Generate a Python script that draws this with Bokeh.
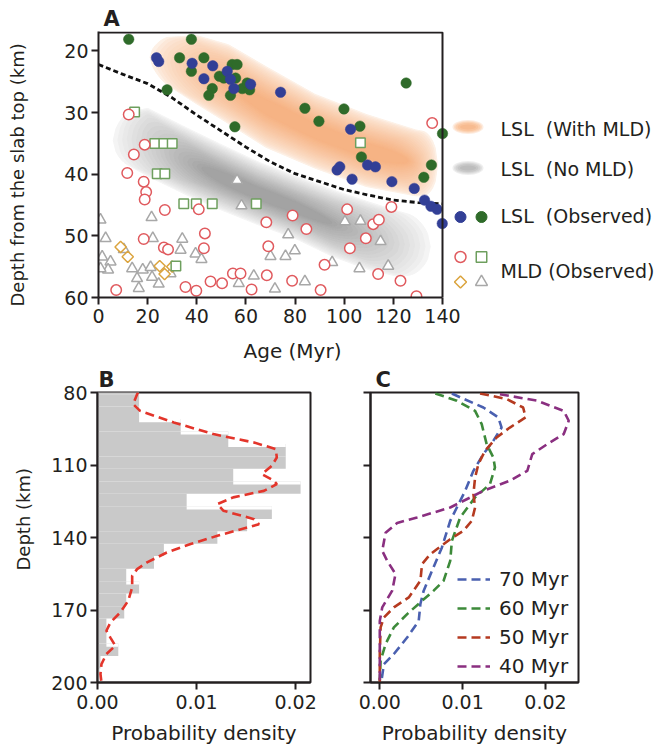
import numpy as np
from bokeh.plotting import figure
from bokeh.models import (Range1d, FixedTicker, Label, Legend, LegendItem, PrintfTickFormatter,
                          Title, LinearAxis)
from bokeh.layouts import column, row
from bokeh.embed import file_html
from bokeh.resources import INLINE

FONT = "DejaVu Sans"
INK = "#231f20"

# ------------------------------------------------------------------ Panel A data
lsl_blue_age = [23.6, 24.5, 38.1, 42.9, 46.5, 52.4, 53.7, 55.1, 61.9, 74.1, 102.6, 97.1, 98.2,
                103.2, 109.5, 112.7, 119.4, 128.5, 132.7, 135.3, 137.8, 139.9]
lsl_blue_depth = [21.1, 21.7, 22.0, 24.5, 22.4, 23.3, 24.6, 26.1, 25.4, 26.7, 32.7, 39.3, 38.8,
                  40.8, 38.5, 38.8, 41.2, 42.3, 44.2, 45.2, 45.7, 48.0]
lsl_green_age = [12.3, 37.8, 33.0, 42.9, 37.8, 54.4, 56.4, 49.2, 51.0, 55.8, 46.3, 44.9, 53.7, 27.9,
                 58.5, 60.5, 61.5, 55.5, 125.2, 84.0, 99.9, 89.7, 106.4, 107.0, 135.5, 140.0, 132.4]
lsl_green_depth = [18.1, 18.1, 21.1, 21.1, 23.3, 22.2, 22.2, 24.1, 24.4, 24.4, 26.1, 27.2, 27.2, 26.3,
                   26.1, 25.2, 26.3, 32.3, 25.2, 29.3, 29.4, 31.4, 32.2, 37.2, 38.5, 33.4, 40.5]

mld_circle_age = [12.3, 18.8, 14.4, 11.7, 18.4, 19.4, 18.8, 27.0, 40.8, 43.3, 18.4, 26.6, 28.3, 42.9,
                  7.2, 35.4, 39.8, 45.6, 50.3, 54.7, 57.8, 62.3, 68.5, 69.1, 68.3, 79.0, 84.6, 78.8,
                  90.4, 92.0, 101.2, 102.3, 108.8, 111.8, 114.1, 113.8, 119.2, 122.9, 129.4, 135.8]
mld_circle_depth = [30.3, 35.2, 36.8, 39.8, 41.2, 42.9, 44.1, 45.8, 45.7, 49.6, 50.5, 51.9, 52.2, 52.0,
                    58.8, 58.3, 58.9, 57.4, 57.7, 56.1, 56.1, 58.7, 56.4, 51.7, 47.8, 46.7, 48.9, 57.3,
                    58.8, 54.7, 45.7, 52.0, 50.4, 48.1, 47.4, 56.2, 45.3, 57.3, 59.8, 31.7]
mld_square_age = [14.7, 22.9, 26.6, 30.0, 23.9, 27.0, 34.7, 39.8, 46.3, 64.2, 31.5, 106.6]
mld_square_depth = [29.9, 35.0, 35.0, 35.0, 39.9, 39.9, 44.8, 44.8, 44.8, 44.8, 54.9, 34.9]
mld_diamond_age = [9.0, 11.9, 24.9, 26.9, 30.0]
mld_diamond_depth = [51.8, 53.4, 54.9, 56.2, 55.0]
mld_triangle_age = [0.8, 2.9, 1.5, 4.9, 3.9, 0.8, 10.3, 13.7, 15.7, 18.0, 21.2, 21.8, 16.4, 24.5, 29.3,
                    33.4, 34.1, 21.6, 22.1, 39.5, 41.9, 56.4, 58.2, 63.2, 57.1, 70.0, 71.8, 77.2, 79.9,
                    76.1, 84.0, 95.1, 100.3, 106.6, 114.8, 106.2, 117.9]
mld_triangle_depth = [47.4, 50.4, 53.4, 54.2, 55.5, 55.3, 52.2, 55.3, 56.9, 55.5, 55.1, 56.7, 58.5, 57.8, 56.1,
                      52.3, 50.5, 47.0, 50.4, 52.9, 53.8, 41.0, 45.1, 56.5, 57.7, 53.3, 58.6, 49.8, 52.4,
                      53.3, 57.4, 54.3, 47.7, 47.6, 50.9, 55.3, 54.9]

# predicted LSL zones (outer edges) and the boundary between them
band_mld_age = [21, 28, 40, 53, 68, 88, 109, 129, 138]
band_mld_top = [18.5, 17.8, 17.5, 19.0, 22.5, 27.0, 30.3, 32.8, 33.5]
band_mld_bottom = [23.5, 25.5, 28.6, 31.8, 35.6, 39.0, 42.0, 43.5, 43.5]
band_nomld_age = [6, 12, 20, 35, 50, 65, 80, 95, 110, 122, 135]
band_nomld_top = [31.5, 30.0, 29.3, 32.3, 35.2, 38.0, 40.3, 42.5, 44.5, 46.0, 47.5]
band_nomld_bottom = [37.5, 38.5, 40.3, 43.2, 45.8, 48.2, 50.4, 53.3, 55.5, 56.6, 56.0]
boundary_age = [0, 10, 20, 30, 40, 50, 60, 70, 80, 90, 100, 110, 120, 130, 140]
boundary_depth = [22.2, 23.8, 25.3, 27.6, 30.4, 33.0, 35.6, 38.0, 39.9, 41.2, 42.5, 43.4, 44.2, 44.6, 44.8]

a_xticks = [0, 20, 40, 60, 80, 100, 120, 140]
a_yticks = [20, 30, 40, 50, 60]

# ------------------------------------------------------------------ Panel B data
hist_edges = [75.5, 80.7, 85.8, 91.0, 96.1, 101.3, 106.5, 111.6, 116.8, 121.9, 127.1, 132.3, 137.4,
              142.6, 147.7, 152.9, 158.1, 163.2, 168.4, 173.5, 178.7, 183.9, 189.0, 194.2, 199.3, 204.5]
hist_density = [0.0042, 0.0042, 0.0042, 0.0084, 0.0132, 0.0190, 0.0190, 0.0137, 0.0205, 0.0090, 0.0176,
                0.0151, 0.0121, 0.0067, 0.0057, 0.0029, 0.0042, 0.0029, 0.0027, 0.0009, 0.0009, 0.0021,
                0.0003, 0.0002, 0.0001]
kde_depth = [80.0, 80.7, 84.8, 87.6, 92.4, 97.2, 100.7, 103.4, 106.9, 110.3, 113.8, 116.5, 117.9, 120.7,
             123.4, 126.2, 128.9, 132.4, 134.5, 135.9, 139.3, 142.7, 146.2, 150.3, 153.1, 155.8, 160.7,
             166.2, 171.0, 175.2, 178.6, 181.4, 184.8, 188.2, 192.4, 196.5, 200.0]
kde_density = [0.0041, 0.0040, 0.0036, 0.0043, 0.0077, 0.0117, 0.0158, 0.0180, 0.0181, 0.0176, 0.0166,
               0.0178, 0.0181, 0.0168, 0.0137, 0.0121, 0.0127, 0.0158, 0.0163, 0.0151, 0.0121, 0.0094,
               0.0070, 0.0050, 0.0040, 0.0035, 0.0035, 0.0031, 0.0023, 0.0013, 0.0009, 0.0013, 0.0018,
               0.0009, 0.0004, 0.0003, 0.0004]
depth_ticks = [80, 110, 140, 170, 200]
density_ticks = [0.0, 0.01, 0.02]

# ------------------------------------------------------------------ Panel C data
c70_depth = [80.4, 82.0, 86.2, 90.3, 94.5, 100.0, 105.5, 112.4, 120.7, 127.6, 133.1, 144.1, 153.8, 162.0,
             167.5, 174.5, 181.4, 188.2, 192.4, 199.3]
c70_density = [0.0087, 0.0097, 0.0125, 0.0143, 0.0147, 0.0137, 0.0125, 0.0113, 0.0103, 0.0093, 0.0085,
               0.0075, 0.0063, 0.0053, 0.0049, 0.0047, 0.0033, 0.0017, 0.0005, 0.0002]
c60_depth = [80.4, 83.4, 87.6, 93.1, 101.4, 106.9, 111.0, 117.9, 123.4, 131.7, 141.4, 149.7, 157.9, 162.0,
             166.2, 171.7, 177.2, 184.1, 191.0, 199.3]
c60_density = [0.0067, 0.0093, 0.0115, 0.0123, 0.0129, 0.0137, 0.0139, 0.0133, 0.0115, 0.0097, 0.0087,
               0.0085, 0.0077, 0.0065, 0.0051, 0.0033, 0.0017, 0.0007, 0.0001, 0.0000]
c50_depth = [80.4, 82.7, 86.2, 90.3, 94.5, 98.6, 104.1, 109.6, 115.2, 122.0, 127.6, 133.1, 137.2, 140.7,
             146.9, 151.0, 157.9, 164.8, 168.9, 173.1, 177.2, 188.2, 195.1, 200.0]
c50_density = [0.0121, 0.0153, 0.0173, 0.0176, 0.0157, 0.0141, 0.0127, 0.0119, 0.0115, 0.0113, 0.0115,
               0.0111, 0.0101, 0.0085, 0.0061, 0.0051, 0.0049, 0.0035, 0.0017, 0.0005, 0.0001, 0.0,
               0.0, 0.0]
c40_depth = [80.7, 83.4, 87.6, 91.7, 97.2, 101.4, 105.5, 112.4, 116.5, 120.7, 127.6, 131.7, 134.0, 138.0,
             145.5, 149.7, 155.1, 162.0, 168.9, 174.5, 181.4, 191.0, 200.0]
c40_density = [0.0145, 0.0190, 0.0222, 0.0228, 0.0222, 0.0202, 0.0184, 0.0178, 0.0157, 0.0125, 0.0085,
               0.0045, 0.0021, 0.0007, 0.0003, 0.0009, 0.0019, 0.0015, 0.0003, 0.0, 0.0, 0.0, 0.0]
c_series = [("70 Myr", c70_density, c70_depth, "#4a60b0"),
            ("60 Myr", c60_density, c60_depth, "#3d8a3a"),
            ("50 Myr", c50_density, c50_depth, "#b53a20"),
            ("40 Myr", c40_density, c40_depth, "#8a2f80")]

# ------------------------------------------------------------------ geometry (page pixels)
A_L, A_R, A_T, A_B = 98, 442, 32, 297
A_H = 364                      # height of the upper figure
A_XMIN, A_XMAX, A_YMIN, A_YMAX = 0, 140, 17, 60
axs = (A_R - A_L) / (A_XMAX - A_XMIN)
ays = (A_B - A_T) / (A_YMAX - A_YMIN)
def a_x(px): return A_XMIN + (px - A_L) / axs
def a_y(py): return A_YMIN + (py - A_T) / ays

B_L, B_R, B_T, B_B = 97, 310, 392, 682
B_XMAX = 0.0215
C_L, C_R = 370, 578
C_XMIN, C_XMAX = -0.00112, 0.02398
LOW_H = 752 - A_H


def style_axis(ax, label_size="19px"):
    ax.axis_line_width = 2
    ax.axis_line_color = INK
    ax.major_tick_line_width = 2
    ax.major_tick_line_color = INK
    ax.major_tick_out = 7
    ax.major_tick_in = 0
    ax.minor_tick_line_color = None
    ax.major_label_text_font = FONT
    ax.major_label_text_font_size = label_size
    ax.major_label_text_color = INK
    ax.axis_label_text_font = FONT
    ax.axis_label_text_font_style = "normal"
    ax.axis_label_text_font_size = "20px"
    ax.axis_label_text_color = INK


def spacer_axis(standoff):
    # an empty axis whose (blank) label only reserves room between the ticks and the title
    ax = LinearAxis(ticker=FixedTicker(ticks=[]), axis_line_color=None, major_tick_line_color=None,
                    major_tick_out=0, major_tick_in=0, major_label_standoff=0,
                    axis_label=" ", axis_label_standoff=standoff,
                    axis_label_text_font=FONT, axis_label_text_font_size="8px")
    ax.minor_tick_line_color = None
    return ax


def side_title(text, offset, size, valign):
    return Title(text=text, align="left", offset=offset, vertical_align=valign, standoff=0,
                 text_font=FONT, text_font_size=size, text_font_style="normal", text_color=INK)


def panel_title(p, text, offset):
    p.title.text = text
    p.title.align = "left"
    p.title.offset = offset
    p.title.standoff = 1
    p.title.text_font = FONT
    p.title.text_font_size = "21px"
    p.title.text_font_style = "bold"
    p.title.text_color = INK


def ramp(c0, c1, n, gamma=1.0):
    a = np.array([int(c0[i:i + 2], 16) for i in (1, 3, 5)], float)
    b = np.array([int(c1[i:i + 2], 16) for i in (1, 3, 5)], float)
    out = []
    for t in np.linspace(0, 1, n) ** gamma:
        c = a + (b - a) * t
        out.append("#%02x%02x%02x" % tuple(int(round(v)) for v in c))
    return out


def band_layers(age, top, bot, fracs, trim_l, trim_r, cap_l, cap_r, grow_l, grow_r, n=120):
    """Nested, progressively narrower copies of a band outline (soft-edged fill)."""
    age = np.asarray(age, float)
    top = np.asarray(top, float)
    bot = np.asarray(bot, float)
    xs_all, ys_all = [], []
    for f in fracs:
        a0 = age[0] + (1 - f) * trim_l
        a1 = age[-1] - (1 - f) * trim_r
        xs = np.linspace(a0, a1, n)
        t = np.interp(xs, age, top)
        b = np.interp(xs, age, bot)
        mid = (t + b) / 2
        half = (b - t) / 2 * f
        left = xs - a0
        right = a1 - xs
        span = (a1 - a0) / 2
        cl = min(cap_l + (1 - f) * grow_l, span)
        cr = min(cap_r + (1 - f) * grow_r, span)
        k = np.where(left < right, np.clip(left / cl, 0, 1), np.clip(right / cr, 0, 1))
        hs = half * np.sqrt(1 - (1 - k) ** 2)
        xs_all.append(np.concatenate([xs, xs[::-1]]))
        ys_all.append(np.concatenate([mid - hs, (mid + hs)[::-1]]))
    return xs_all, ys_all


# ================================================================== Panel A
pA = figure(width=661, height=A_H, output_backend="svg", toolbar_location=None,
            x_range=Range1d(A_XMIN, a_x(661)), y_range=Range1d(A_YMAX, a_y(A_T - 1)),
            min_border_left=A_L, min_border_right=0, min_border_top=A_T - 1,
            min_border_bottom=A_H - A_B)
pA.outline_line_color = None
pA.grid.visible = False
pA.xaxis.bounds = (A_XMIN, A_XMAX)
pA.xaxis.ticker = FixedTicker(ticks=a_xticks)
pA.yaxis.ticker = FixedTicker(ticks=a_yticks)
for ax in pA.axis:
    style_axis(ax)
pA.xaxis.major_label_standoff = 4
pA.yaxis.major_label_standoff = 3
panel_title(pA, "A", 5)
pA.add_layout(spacer_axis(22), "left")
pA.add_layout(side_title("Depth from the slab top (km)", -9, "18px", "bottom"), "left")
pA.add_layout(spacer_axis(1), "below")
pA.add_layout(side_title("Age (Myr)", 145, "20px", "top"), "below")

NL = 20
fracs = np.linspace(1.0, 0.2, NL)
orange_cols = ramp("#fdf0e5", "#f6b384", NL, 0.7)
gray_cols = ramp("#f4f4f4", "#a3a3a3", NL, 0.9)
gx, gy = band_layers(band_nomld_age, band_nomld_top, band_nomld_bottom, fracs,
                     45, 50, 6, 9, 12, 30)
pA.patches(xs=gx, ys=gy, fill_color=gray_cols, line_color=gray_cols, line_width=1)
ox, oy = band_layers(band_mld_age, band_mld_top, band_mld_bottom, fracs,
                     40, 15, 7, 6, 22, 10)
pA.patches(xs=ox, ys=oy, fill_color=orange_cols, line_color=orange_cols, line_width=1)

pA.line(boundary_age, boundary_depth, line_color="#111111", line_width=2.8, line_dash="5 3")

TRI, SQ, DIA, CIR = "#a8a8a8", "#6e9f5e", "#dba43e", "#e05a5e"
BLUE, GREEN = "#323f96", "#2f6b2a"
pA.scatter(mld_triangle_age, mld_triangle_depth, marker="triangle", size=11,
           fill_color="white", line_color=TRI, line_width=1.5)
pA.scatter(mld_diamond_age, mld_diamond_depth, marker="square", angle=np.pi / 4, size=8,
           fill_color="white", line_color=DIA, line_width=1.5)
pA.scatter(mld_square_age, mld_square_depth, marker="square", size=9.5,
           fill_color="white", line_color=SQ, line_width=1.5)
pA.scatter(mld_circle_age, mld_circle_depth, marker="circle", size=10.5,
           fill_color="white", line_color=CIR, line_width=1.5)
pA.scatter(lsl_green_age, lsl_green_depth, marker="circle", size=10.5,
           fill_color=GREEN, line_color=GREEN, line_width=0.5)
pA.scatter(lsl_blue_age, lsl_blue_depth, marker="circle", size=10.5,
           fill_color=BLUE, line_color=BLUE, line_width=0.5)

# frame top / right edges of the data box
pA.line([A_XMIN, A_XMAX, A_XMAX], [A_YMIN, A_YMIN, A_YMAX], line_color=INK, line_width=2)

# legend of panel A (right of the box; page pixels converted to data units)
lg_x1, lg_x2, lg_tx = 460, 481, 500
ell_cx = 467.5
for w, h, col_o, col_g in [(31, 14, "#fdece0", "#eeeeee"), (28, 12, "#fcdcc4", "#e0e0e0"),
                           (25, 10, "#fbcfae", "#d3d3d3"), (21, 8, "#f9c49d", "#c7c7c7"),
                           (16, 5, "#f7bb90", "#bdbdbd")]:
    pA.ellipse(x=[a_x(ell_cx)], y=[a_y(126.5)], width=w, height=h, width_units="screen",
               height_units="screen", fill_color=col_o, line_color=None)
    pA.ellipse(x=[a_x(ell_cx)], y=[a_y(167.5)], width=w, height=h, width_units="screen",
               height_units="screen", fill_color=col_g, line_color=None)
pA.scatter([a_x(lg_x1)], [a_y(216.5)], marker="circle", size=11, fill_color=BLUE, line_color=BLUE)
pA.scatter([a_x(lg_x2)], [a_y(216.5)], marker="circle", size=11, fill_color=GREEN, line_color=GREEN)
pA.scatter([a_x(lg_x1)], [a_y(256.5)], marker="circle", size=11, fill_color="white",
           line_color=CIR, line_width=1.5)
pA.scatter([a_x(lg_x2)], [a_y(256.5)], marker="square", size=10.5, fill_color="white",
           line_color=SQ, line_width=1.5)
pA.scatter([a_x(lg_x1)], [a_y(281.5)], marker="square", angle=np.pi / 4, size=8.5,
           fill_color="white", line_color=DIA, line_width=1.5)
pA.scatter([a_x(lg_x2)], [a_y(281.5)], marker="triangle", size=12, fill_color="white",
           line_color=TRI, line_width=1.5)
for txt, py in [("LSL\u00a0 (With MLD)", 128), ("LSL\u00a0 (No MLD)", 168.5),
                ("LSL\u00a0 (Observed)", 215.5), ("MLD (Observed)", 270.5)]:
    pA.add_layout(Label(x=a_x(lg_tx), y=a_y(py), text=txt, text_font=FONT, text_font_size="19px",
                        text_color=INK, text_baseline="middle", text_align="left"))

# ================================================================== Panel B
pB = figure(width=340, height=LOW_H, output_backend="svg", toolbar_location=None,
            x_range=Range1d(0, B_XMAX), y_range=Range1d(200, 80),
            min_border_left=B_L, min_border_right=340 - B_R, min_border_top=B_T - A_H,
            min_border_bottom=752 - B_B)
pB.grid.visible = False
pB.outline_line_color = INK
pB.outline_line_width = 2
pB.outline_line_alpha = 1.0
pB.xaxis.ticker = FixedTicker(ticks=density_ticks)
pB.yaxis.ticker = FixedTicker(ticks=depth_ticks)
pB.xaxis.formatter = PrintfTickFormatter(format="%.2f")
for ax in pB.axis:
    style_axis(ax)
pB.yaxis.major_label_standoff = 3
pB.xaxis.major_label_standoff = 5
pB.xaxis.axis_label = "Probability density"
pB.xaxis.axis_label_standoff = 9
panel_title(pB, "B", 1)
pB.add_layout(spacer_axis(3), "left")
pB.add_layout(side_title("Depth (km)", 112, "18px", "bottom"), "left")

he = np.asarray(hist_edges)
hv = np.asarray(hist_density)
pB.quad(left=0, right=hv, top=he[:-1], bottom=he[1:], fill_color="#c9c9c9", line_color=None)
NOTCH_KM = 1.3
up, lo, bnd = hv[:-1], hv[1:], he[1:-1]
m = lo > up
pB.quad(left=up[m], right=lo[m], top=bnd[m], bottom=bnd[m] + NOTCH_KM,
        fill_color="white", line_color=None)
pB.line(kde_density, kde_depth, line_color="#e3352b", line_width=2.6, line_dash="9 5")

# ================================================================== Panel C
pC = figure(width=321, height=LOW_H, output_backend="svg", toolbar_location=None,
            x_range=Range1d(C_XMIN, C_XMAX), y_range=Range1d(200, 80),
            min_border_left=C_L - 340, min_border_right=661 - C_R, min_border_top=B_T - A_H,
            min_border_bottom=752 - B_B)
pC.grid.visible = False
pC.outline_line_color = INK
pC.outline_line_width = 2
pC.outline_line_alpha = 1.0
pC.xaxis.ticker = FixedTicker(ticks=density_ticks)
pC.yaxis.ticker = FixedTicker(ticks=depth_ticks)
pC.xaxis.formatter = PrintfTickFormatter(format="%.2f")
for ax in pC.axis:
    style_axis(ax)
pC.yaxis.major_label_overrides = {t: " " for t in depth_ticks}
pC.xaxis.major_label_standoff = 5
pC.xaxis.axis_label = "Probability density"
pC.xaxis.axis_label_standoff = 9
panel_title(pC, "C", 5)

items = []
for name, dens, dep, col in c_series:
    r = pC.line(dens, dep, line_color=col, line_width=2.6, line_dash="9 5")
    items.append(LegendItem(label=name, renderers=[r]))
leg = Legend(items=items, location=(87, 4), orientation="vertical",
             glyph_width=33, glyph_height=20, label_height=20, spacing=5, padding=0, margin=0,
             label_standoff=9, border_line_color=None, background_fill_alpha=0,
             label_text_font=FONT, label_text_font_size="20px", label_text_color=INK)
pC.add_layout(leg)

layout = column(pA, row(pB, pC, spacing=0), spacing=0)
open("out.html", "w").write(file_html(layout, INLINE))
